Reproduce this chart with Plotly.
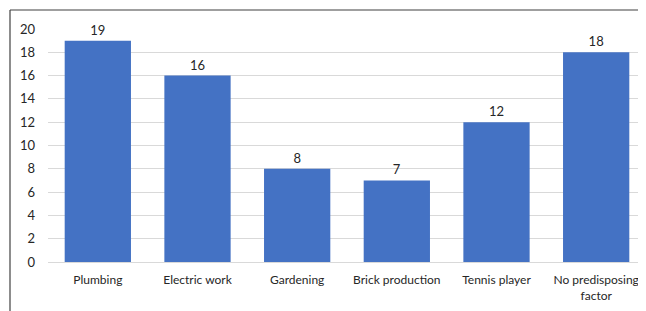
import plotly.graph_objects as go

categories = ["Plumbing", "Electric work", "Gardening", "Brick production", "Tennis player", "No predisposing<br>factor"]
values = [19, 16, 8, 7, 12, 18]
y_ticks = [0, 2, 4, 6, 8, 10, 12, 14, 16, 18, 20]

# page body has an 8px margin; figure is sized so it fits the 646x311 window
OFF = 8
W, H = 646 - OFF, 311 - OFF
ml, mr, mt, mb = 48 - OFF, 0, 29 - OFF, 311 - 262
pw, ph = W - ml - mr, H - mt - mb

FONT = "Lato, sans-serif"

fig = go.Figure(go.Bar(
    x=categories, y=values, text=values, textposition="outside",
    marker=dict(color="#4472C4", line=dict(width=0)),
    textfont=dict(size=13, color="#262626"), cliponaxis=False,
))

def px_x(p):
    return (p - OFF - ml) / pw

def px_y(p):
    return 1 - (p - OFF - mt) / ph

fig.update_layout(
    width=W, height=H,
    margin=dict(l=ml, r=mr, t=mt, b=mb, autoexpand=False),
    paper_bgcolor="white", plot_bgcolor="white",
    bargap=0.335,
    font=dict(family=FONT, size=13, color="#262626"),
    showlegend=False,
    xaxis=dict(showline=True, linecolor="#d9d9d9", linewidth=1, ticks="",
               tickfont=dict(size=12), automargin=False, ticklabelstandoff=7),
    yaxis=dict(range=[0, 20], tickvals=y_ticks, showgrid=True, gridcolor="#d9d9d9",
               zeroline=False, ticks="", tickfont=dict(size=13), automargin=False,
               ticklabelstandoff=12),
    shapes=[
        dict(type="line", xref="paper", yref="paper", x0=px_x(10), x1=px_x(660),
             y0=px_y(10), y1=px_y(10), line=dict(color="#404040", width=1.2)),
        dict(type="line", xref="paper", yref="paper", x0=px_x(10), x1=px_x(10),
             y0=px_y(10), y1=px_y(320), line=dict(color="#404040", width=1.2)),
    ],
)

fig.write_html("out.html")
